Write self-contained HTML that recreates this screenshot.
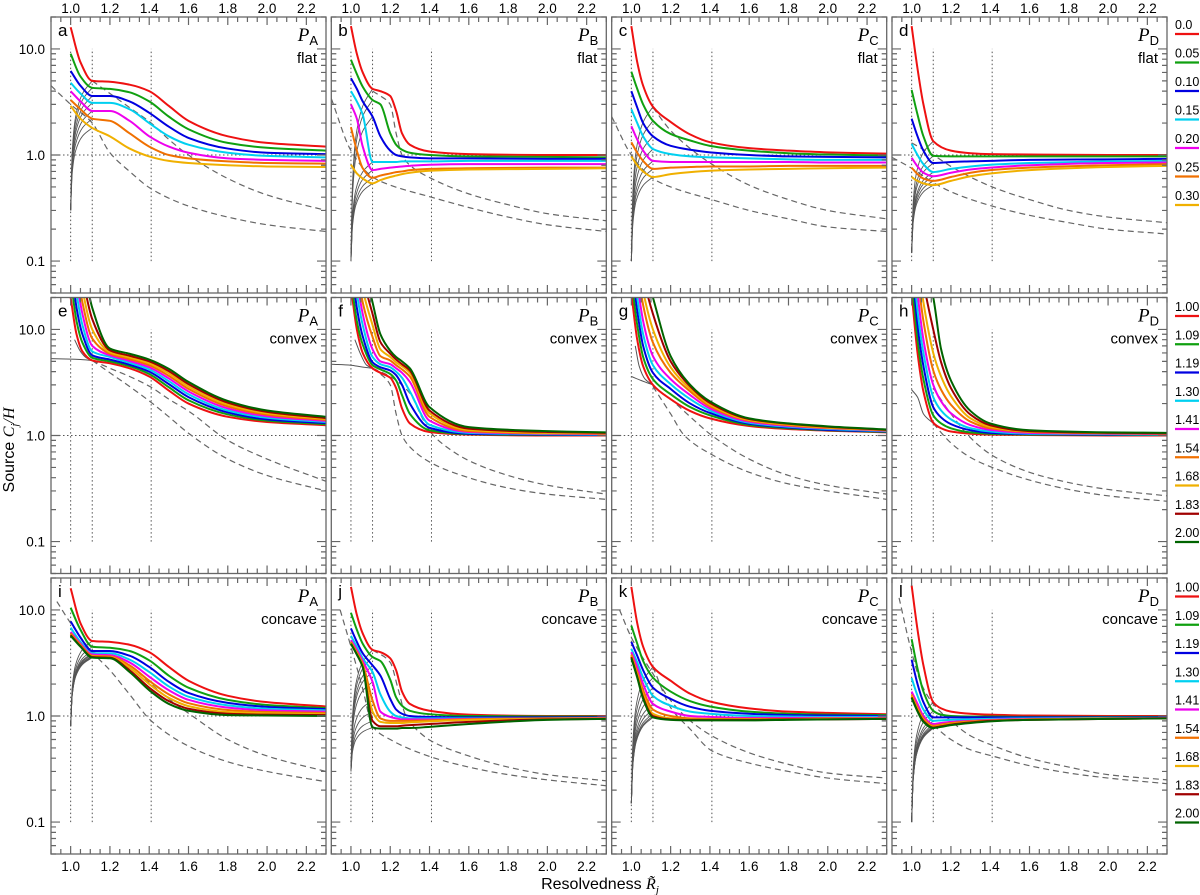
<!DOCTYPE html>
<html><head><meta charset="utf-8"><style>
html,body{margin:0;padding:0;background:#fff;}
svg{display:block;font-family:"Liberation Sans",sans-serif;}
</style></head><body>
<svg id="chart" width="1200" height="895" viewBox="0 0 1200 895" xmlns="http://www.w3.org/2000/svg"></svg>
<script>
// ---------- data ----------
const xTicks=[1.0,1.2,1.4,1.6,1.8,2.0,2.2];
const xTickLabels=["1.0","1.2","1.4","1.6","1.8","2.0","2.2"];
const yTicks=[10,1,0.1];
const yTickLabels=["10.0","1.0","0.1"];
const refLinesX=[1.0,1.11,1.41];
const legendFlat=["0.0","0.05","0.10","0.15","0.20","0.25","0.30"];
const legendShape=["1.00","1.09","1.19","1.30","1.41","1.54","1.68","1.83","2.00"];
const panelLetters=["a","b","c","d","e","f","g","h","i","j","k","l"];
const panelP=["A","B","C","D"];
const rowKind=["flat","convex","concave"];
const colors=["#ee1111","#10a010","#0000e0","#00d0f0","#ee00ee","#f07000","#f0b000","#a00000","#006400"];

// panel a
const xA=[1.0,1.05,1.11,1.2,1.3,1.4,1.5,1.6,1.8,2.0,2.3];
const sA=[[16,7.5,5.0,4.9,4.6,4.0,2.9,2.1,1.5,1.3,1.2],[9,5.5,4.3,4.2,3.9,3.2,2.3,1.75,1.3,1.17,1.1],[6.2,4.5,3.6,3.6,3.2,2.5,1.85,1.45,1.15,1.05,1.02],[4.8,3.8,3.1,3.1,2.7,2.0,1.5,1.25,1.05,0.98,0.95],[4.0,3.2,2.6,2.6,2.1,1.5,1.2,1.05,0.93,0.9,0.88],[3.3,2.7,2.2,2.1,1.6,1.2,1.0,0.93,0.87,0.84,0.83],[2.9,2.2,1.8,1.5,1.15,0.97,0.88,0.84,0.8,0.78,0.77]];
const dA1x=[0.9,1.0,1.11,1.2,1.3,1.41,1.6,1.8,2.0,2.3], dA1=[4.5,3.0,2.0,1.05,0.7,0.48,0.33,0.26,0.22,0.19];
const dA2x=[1.11,1.2,1.3,1.41,1.5,1.6,1.8,2.0,2.3], dA2=[5.0,3.8,2.8,2.0,1.4,1.0,0.6,0.42,0.3];
const fanA=0.3;
// panel b
const xB=[1.0,1.03,1.06,1.11,1.15,1.2,1.23,1.26,1.3,1.4,1.6,2.0,2.3];
const sB=[[16.4,9,6,4.2,4.0,3.6,2.6,1.6,1.25,1.08,1.02,1.0,1.0],[7.9,5.8,4.4,3.3,3.0,1.6,1.25,1.12,1.05,1.0,0.97,0.96,0.95],[5.3,4.2,3.2,2.3,1.5,1.1,1.0,0.97,0.95,0.93,0.93,0.92,0.92],[4.0,3.2,2.4,0.86,0.86,0.86,0.86,0.87,0.87,0.87,0.88,0.88,0.88],[3.0,2.2,1.2,0.72,0.74,0.76,0.77,0.78,0.79,0.81,0.82,0.82,0.82],[1.83,1.1,0.75,0.61,0.64,0.67,0.69,0.7,0.72,0.74,0.75,0.76,0.76],[0.81,0.67,0.6,0.54,0.58,0.62,0.64,0.66,0.68,0.71,0.73,0.74,0.75]];
const dB1x=[0.9,1.0,1.11,1.2,1.41,1.6,1.8,2.0,2.3], dB1=[3.4,1.1,0.62,0.52,0.40,0.32,0.26,0.22,0.19];
const dB2x=[1.11,1.15,1.2,1.23,1.26,1.3,1.41,1.6,1.8,2.0,2.3], dB2=[4.0,3.6,3.0,1.6,1.0,0.8,0.6,0.43,0.34,0.28,0.24];
const fanB=0.1;
// panel c
const xC=[1.0,1.03,1.06,1.11,1.2,1.3,1.4,1.6,1.8,2.0,2.3];
const sC=[[16.4,7.5,4.5,2.85,2.05,1.56,1.32,1.16,1.1,1.06,1.03],[6.1,4.2,3.0,2.1,1.58,1.37,1.22,1.1,1.04,1.01,0.99],[4.0,2.8,2.0,1.5,1.22,1.12,1.06,1.0,0.97,0.96,0.95],[2.7,2.0,1.5,1.14,1.02,0.97,0.95,0.93,0.91,0.9,0.9],[1.87,1.4,1.1,0.88,0.86,0.86,0.86,0.86,0.86,0.85,0.85],[1.32,1.05,0.88,0.74,0.76,0.77,0.78,0.78,0.79,0.79,0.79],[0.97,0.8,0.7,0.62,0.66,0.69,0.71,0.73,0.74,0.75,0.76]];
const dC1x=[0.9,1.0,1.11,1.2,1.41,1.6,1.8,2.0,2.3], dC1=[2.3,1.0,0.6,0.5,0.38,0.3,0.25,0.21,0.19];
const dC2x=[1.11,1.2,1.3,1.41,1.6,1.8,2.0,2.3], dC2=[2.8,1.7,1.15,0.82,0.52,0.38,0.3,0.25];
const fanC=0.1;
// panel d
const xD=[1.0,1.03,1.06,1.11,1.2,1.3,1.4,1.6,2.0,2.3];
const sD=[[16.4,6.5,3.0,1.35,1.1,1.04,1.02,1.01,1.0,1.0],[4.1,2.4,1.5,0.98,0.97,0.97,0.97,0.97,0.97,0.97],[2.2,1.5,1.1,0.84,0.86,0.87,0.88,0.9,0.91,0.92],[1.27,1.0,0.82,0.69,0.74,0.78,0.81,0.84,0.87,0.88],[0.94,0.78,0.68,0.63,0.68,0.73,0.76,0.8,0.84,0.85],[0.76,0.66,0.6,0.57,0.62,0.68,0.72,0.76,0.8,0.82],[0.62,0.57,0.54,0.52,0.57,0.63,0.67,0.72,0.77,0.79]];
const dD1x=[0.9,1.0,1.11,1.2,1.41,1.6,1.8,2.0,2.3], dD1=[0.95,0.75,0.55,0.45,0.33,0.27,0.23,0.2,0.18];
const dD2x=[1.0,1.11,1.2,1.41,1.6,1.8,2.0,2.3], dD2=[1.3,1.0,0.78,0.5,0.38,0.3,0.26,0.23];
const fanD=0.12;
// panel e
const xE=[1.0,1.03,1.06,1.11,1.2,1.3,1.4,1.5,1.6,1.8,2.0,2.3];
const sE=[[20,9,6.2,5.1,4.8,4.3,3.6,2.65,2.0,1.5,1.34,1.25],[30,12,7.5,5.4,5.0,4.5,3.8,2.85,2.15,1.58,1.38,1.28],[45,16,9,5.7,5.2,4.65,4.0,3.05,2.3,1.65,1.42,1.31],[60,22,11,6.2,5.5,4.85,4.2,3.25,2.45,1.72,1.47,1.34],[80,30,14,7.0,5.7,5.05,4.4,3.45,2.6,1.8,1.52,1.37],[100,40,18,8.2,5.9,5.25,4.6,3.65,2.75,1.88,1.57,1.4],[120,55,24,10,6.1,5.45,4.8,3.85,2.9,1.96,1.62,1.43],[150,70,32,12.5,6.35,5.65,5.0,4.05,3.05,2.04,1.67,1.46],[200,90,45,16,6.6,5.9,5.2,4.25,3.2,2.12,1.72,1.5]];
const dE1x=[1.11,1.2,1.3,1.41,1.5,1.6,1.8,2.0,2.3], dE1=[5.1,3.9,2.9,2.05,1.5,1.05,0.6,0.42,0.3];
const dE2x=[1.11,1.2,1.3,1.41,1.5,1.6,1.8,2.0,2.3], dE2=[5.1,4.3,3.6,2.85,2.2,1.7,0.9,0.6,0.37];
const gE=[[[1.02,1.05,1.08,1.11],[8,6.2,5.4,5.1]],[[0.9,1.0,1.05,1.11],[5.3,5.25,5.2,5.1]]];
// panel f
const xF=[1.0,1.03,1.06,1.11,1.15,1.2,1.23,1.26,1.3,1.4,1.6,2.0,2.3];
const sF=[[25,10,6,4.3,3.9,3.5,2.8,1.8,1.3,1.08,1.02,1.0,1.0],[30,12,7.2,4.6,4.2,3.8,3.3,2.4,1.6,1.12,1.03,1.01,1.01],[45,16,8.6,4.9,4.4,4.1,3.7,3.0,2.0,1.18,1.04,1.02,1.01],[60,22,11,5.5,4.7,4.4,4.0,3.5,2.6,1.26,1.06,1.03,1.02],[80,30,14,6.5,5.0,4.7,4.3,3.9,3.2,1.38,1.08,1.04,1.03],[100,40,18,8.5,5.6,5.1,4.6,4.2,3.6,1.5,1.1,1.05,1.04],[120,55,24,11,6.5,5.5,4.9,4.5,3.9,1.62,1.13,1.06,1.05],[150,70,32,14,7.6,5.9,5.2,4.7,4.1,1.72,1.16,1.08,1.06],[200,90,45,18,9,6.3,5.5,5.0,4.3,1.85,1.2,1.1,1.07]];
const dF1x=[1.11,1.15,1.2,1.23,1.26,1.3,1.41,1.6,1.8,2.0,2.3], dF1=[4.3,3.8,3.0,1.6,1.0,0.78,0.55,0.4,0.32,0.28,0.25];
const dF2x=[1.11,1.2,1.3,1.36,1.41,1.5,1.6,1.8,2.0,2.3], dF2=[4.3,3.6,2.5,1.5,1.05,0.75,0.58,0.42,0.34,0.28];
const gF=[[[1.02,1.05,1.08,1.11],[8,5.8,4.6,4.3]],[[0.9,1.0,1.05,1.11],[4.7,4.6,4.45,4.3]]];
// panel g
const xG=[1.0,1.03,1.06,1.11,1.2,1.3,1.4,1.6,1.8,2.0,2.3];
const sG=[[22,8,4.5,3.0,2.2,1.7,1.45,1.23,1.15,1.11,1.07],[30,11,5.5,3.4,2.45,1.85,1.55,1.26,1.17,1.12,1.08],[45,15,7,3.9,2.75,2.0,1.63,1.29,1.19,1.13,1.09],[60,20,9,4.6,3.05,2.2,1.72,1.32,1.21,1.15,1.1],[80,28,12,5.6,3.4,2.4,1.8,1.35,1.23,1.17,1.11],[100,38,17,7.5,3.9,2.6,1.88,1.38,1.25,1.18,1.12],[120,50,23,10,4.4,2.75,1.95,1.4,1.27,1.19,1.12],[150,70,32,14,5.0,2.9,2.03,1.43,1.29,1.21,1.13],[200,90,45,20,5.6,3.0,2.1,1.45,1.3,1.22,1.14]];
const dG1x=[1.11,1.2,1.27,1.41,1.6,1.8,2.0,2.3], dG1=[2.9,1.6,1.0,0.66,0.45,0.35,0.3,0.25];
const dG2x=[1.11,1.2,1.3,1.41,1.6,1.8,2.0,2.3], dG2=[2.9,2.2,1.5,1.0,0.6,0.42,0.34,0.28];
const gG=[[[1.02,1.04,1.07,1.11],[7,4.5,3.4,3.0]],[[1.0,1.05,1.11],[3.6,3.3,3.0]]];
// panel h
const xH=[1.0,1.03,1.06,1.11,1.15,1.2,1.3,1.4,1.6,2.0,2.3];
const sH=[[22,6,2.6,1.32,1.17,1.09,1.04,1.02,1.01,1.0,1.0],[30,8,3.4,1.55,1.3,1.17,1.07,1.04,1.02,1.01,1.01],[45,11,4.5,1.85,1.48,1.28,1.12,1.06,1.03,1.02,1.02],[60,15,6.0,2.3,1.72,1.42,1.17,1.09,1.04,1.03,1.02],[80,22,8,3.0,2.1,1.62,1.25,1.13,1.06,1.04,1.03],[100,32,12,4.1,2.7,1.95,1.35,1.17,1.08,1.05,1.04],[120,45,18,6,3.6,2.35,1.45,1.21,1.09,1.06,1.05],[150,65,28,10,4.9,2.8,1.57,1.25,1.1,1.06,1.05],[200,90,45,20,6.5,3.3,1.7,1.3,1.12,1.07,1.06]];
const dH1x=[1.11,1.2,1.3,1.41,1.6,1.8,2.0,2.3], dH1=[1.3,0.85,0.62,0.5,0.38,0.31,0.27,0.24];
const dH2x=[1.11,1.2,1.3,1.41,1.6,1.8,2.0,2.3], dH2=[2.8,1.6,0.95,0.65,0.45,0.36,0.31,0.27];
const gH=[[[1.0,1.03,1.06,1.11],[2.7,2.3,1.6,1.3]]];
// panel i
const xI=[1.0,1.05,1.11,1.2,1.3,1.4,1.5,1.6,1.8,2.0,2.3];
const sI=[[16,7.5,5.1,5.0,4.7,4.0,2.9,2.15,1.55,1.35,1.23],[10.5,6.5,4.5,4.4,4.1,3.35,2.4,1.85,1.42,1.27,1.19],[7.8,5.5,4.1,4.1,3.7,2.9,2.1,1.65,1.33,1.22,1.16],[6.8,5.0,3.9,3.9,3.4,2.6,1.9,1.52,1.26,1.17,1.13],[6.2,4.8,3.8,3.75,3.2,2.35,1.75,1.42,1.2,1.13,1.1],[6.0,4.7,3.7,3.65,3.0,2.15,1.6,1.32,1.14,1.09,1.07],[5.9,4.6,3.65,3.6,2.85,2.0,1.48,1.24,1.09,1.06,1.04],[5.8,4.55,3.6,3.55,2.7,1.85,1.38,1.17,1.05,1.03,1.02],[5.7,4.5,3.55,3.5,2.6,1.75,1.3,1.12,1.02,1.01,1.0]];
const dI1x=[0.93,1.0,1.11,1.2,1.3,1.41,1.6,1.8,2.0,2.3], dI1=[12,7.5,4.0,2.7,1.6,0.9,0.52,0.37,0.3,0.24];
const dI2x=[1.11,1.2,1.3,1.41,1.5,1.62,1.8,2.0,2.3], dI2=[4.0,3.6,3.0,2.0,1.45,1.0,0.6,0.42,0.3];
const fanI=0.8;
// panel j
const xJ=[1.0,1.03,1.06,1.11,1.15,1.2,1.23,1.26,1.3,1.4,1.6,2.0,2.3];
const sJ=[[16.5,9,6,4.2,4.0,3.5,2.7,1.7,1.3,1.12,1.03,1.0,1.0],[9.4,6.5,4.8,3.6,3.3,2.2,1.5,1.25,1.12,1.04,1.0,0.99,0.99],[6.7,5.0,3.9,3.0,2.4,1.45,1.15,1.05,1.0,0.98,0.97,0.97,0.97],[5.7,4.5,3.5,2.6,1.6,1.1,1.0,0.97,0.95,0.95,0.95,0.95,0.96],[5.2,4.2,3.3,2.1,1.1,0.98,0.95,0.93,0.93,0.93,0.94,0.95,0.96],[5.0,4.0,3.1,1.4,0.95,0.9,0.9,0.9,0.9,0.91,0.93,0.95,0.95],[4.9,3.9,3.0,1.1,0.88,0.86,0.86,0.86,0.87,0.89,0.92,0.94,0.95],[4.8,3.8,2.9,0.9,0.8,0.8,0.8,0.81,0.82,0.84,0.88,0.93,0.94],[4.8,3.8,2.9,0.78,0.76,0.76,0.76,0.77,0.77,0.79,0.84,0.92,0.94]];
const dJ1x=[0.945,1.0,1.06,1.11,1.2,1.41,1.6,1.8,2.0,2.3], dJ1=[10,4.5,1.8,0.8,0.6,0.41,0.33,0.28,0.25,0.22];
const dJ2x=[1.11,1.2,1.24,1.28,1.35,1.41,1.6,1.8,2.0,2.3], dJ2=[4.2,3.2,1.8,1.0,0.7,0.58,0.42,0.33,0.28,0.245];
const fanJ=0.3;
// panel k
const xK=[1.0,1.03,1.06,1.11,1.2,1.3,1.4,1.6,1.8,2.0,2.3];
const sK=[[16.5,7.5,4.5,2.9,2.15,1.62,1.37,1.18,1.1,1.07,1.04],[7.1,4.8,3.3,2.3,1.7,1.38,1.23,1.1,1.05,1.03,1.02],[5.0,3.7,2.7,1.85,1.45,1.22,1.12,1.05,1.02,1.01,1.0],[4.3,3.2,2.3,1.55,1.25,1.1,1.05,1.0,0.99,0.98,0.98],[4.0,2.9,2.0,1.3,1.1,1.0,0.98,0.96,0.96,0.96,0.96],[3.8,2.6,1.75,1.15,1.0,0.95,0.94,0.94,0.94,0.95,0.95],[3.7,2.45,1.6,1.05,0.95,0.93,0.93,0.93,0.93,0.94,0.94],[3.6,2.35,1.5,1.0,0.93,0.92,0.92,0.92,0.93,0.93,0.94],[3.5,2.3,1.45,0.97,0.92,0.91,0.91,0.91,0.92,0.93,0.94]];
const dK1x=[0.94,1.0,1.11,1.2,1.3,1.41,1.6,1.8,2.0,2.3], dK1=[10,5.5,2.5,1.4,0.9,0.65,0.45,0.35,0.29,0.26];
const dK2x=[1.11,1.2,1.3,1.41,1.6,1.8,2.0,2.3], dK2=[2.9,1.2,0.75,0.47,0.36,0.3,0.26,0.23];
const fanK=0.15;
// panel l
const xL=[1.0,1.03,1.06,1.11,1.15,1.2,1.3,1.4,1.6,2.0,2.3];
const sL=[[17,6.5,3.0,1.35,1.18,1.1,1.05,1.03,1.01,1.0,1.0],[5.3,2.8,1.7,1.12,1.03,1.0,0.99,0.99,0.98,0.98,0.98],[3.4,2.0,1.35,0.97,0.97,0.97,0.97,0.97,0.97,0.97,0.97],[2.28,1.55,1.15,0.9,0.91,0.92,0.93,0.94,0.95,0.96,0.96],[1.7,1.3,1.0,0.84,0.86,0.88,0.9,0.92,0.94,0.95,0.96],[1.6,1.2,0.95,0.81,0.83,0.86,0.89,0.91,0.93,0.95,0.95],[1.55,1.15,0.92,0.79,0.81,0.84,0.88,0.9,0.93,0.94,0.95],[1.5,1.12,0.9,0.78,0.8,0.83,0.87,0.9,0.92,0.94,0.95],[1.48,1.1,0.88,0.77,0.79,0.82,0.86,0.89,0.92,0.94,0.95]];
const dL1x=[0.936,1.0,1.05,1.11,1.2,1.3,1.41,1.6,1.8,2.0,2.3], dL1=[13,4,2.0,1.3,0.9,0.65,0.53,0.4,0.33,0.28,0.25];
const dL2x=[1.11,1.2,1.3,1.41,1.6,1.8,2.0,2.3], dL2=[0.82,0.6,0.48,0.42,0.34,0.29,0.26,0.23];
const fanL=0.1;

// ---------- geometry ----------
const NS="http://www.w3.org/2000/svg";
const svg=document.getElementById('chart');
const colL=[51,331.3,611.7,892], rowT=[17,297.5,578], PW=275, PH=276;
const XMIN=0.9,XMAX=2.3,LYMAX=Math.log10(20),LYSPAN=Math.log10(400);
function px(c,x){return colL[c]+(x-XMIN)/(XMAX-XMIN)*PW;}
function py(r,v){return rowT[r]+(LYMAX-Math.log10(v))/LYSPAN*PH;}
function mk(tag,attrs,parent){const e=document.createElementNS(NS,tag);for(const k in attrs)e.setAttribute(k,attrs[k]);(parent||svg).appendChild(e);return e;}
// monotone cubic (Fritsch-Carlson) path through pixel points
function spline(pts){
  const n=pts.length; if(n<2)return '';
  const dx=[],m=[],t=new Array(n);
  for(let i=0;i<n-1;i++){dx[i]=pts[i+1][0]-pts[i][0];m[i]=(pts[i+1][1]-pts[i][1])/dx[i];}
  t[0]=m[0]; t[n-1]=m[n-2];
  for(let i=1;i<n-1;i++){
    if(m[i-1]*m[i]<=0)t[i]=0;
    else{const w1=2*dx[i]+dx[i-1],w2=dx[i]+2*dx[i-1];t[i]=(w1+w2)/(w1/m[i-1]+w2/m[i]);}
  }
  let d='M'+pts[0][0].toFixed(2)+','+pts[0][1].toFixed(2);
  for(let i=0;i<n-1;i++){
    const h=dx[i]/3;
    d+='C'+(pts[i][0]+h).toFixed(2)+','+(pts[i][1]+t[i]*h).toFixed(2)+' '+(pts[i+1][0]-h).toFixed(2)+','+(pts[i+1][1]-t[i+1]*h).toFixed(2)+' '+pts[i+1][0].toFixed(2)+','+pts[i+1][1].toFixed(2);
  }
  return d;
}
function curve(g,c,r,xs,vs,attrs){
  const pts=xs.map((x,i)=>[px(c,x),py(r,vs[i])]);
  const a=Object.assign({d:spline(pts),fill:'none'},attrs);
  return mk('path',a,g);
}

const panels=[
 {x:xA,s:sA,d:[[dA1x,dA1],[dA2x,dA2]],fan:fanA},
 {x:xB,s:sB,d:[[dB1x,dB1],[dB2x,dB2]],fan:fanB},
 {x:xC,s:sC,d:[[dC1x,dC1],[dC2x,dC2]],fan:fanC},
 {x:xD,s:sD,d:[[dD1x,dD1],[dD2x,dD2]],fan:fanD},
 {x:xE,s:sE,d:[[dE1x,dE1],[dE2x,dE2]],g:gE},
 {x:xF,s:sF,d:[[dF1x,dF1],[dF2x,dF2]],g:gF},
 {x:xG,s:sG,d:[[dG1x,dG1],[dG2x,dG2]],g:gG},
 {x:xH,s:sH,d:[[dH1x,dH1],[dH2x,dH2]],g:gH},
 {x:xI,s:sI,d:[[dI1x,dI1],[dI2x,dI2]],fan:fanI},
 {x:xJ,s:sJ,d:[[dJ1x,dJ1],[dJ2x,dJ2]],fan:fanJ},
 {x:xK,s:sK,d:[[dK1x,dK1],[dK2x,dK2]],fan:fanK},
 {x:xL,s:sL,d:[[dL1x,dL1],[dL2x,dL2]],fan:fanL}
];
const defs=mk('defs',{});
const fanProfile=[0,0.45,0.72,0.9,1];
const fanXs=[1.0,1.008,1.025,1.06,1.11];

panels.forEach((P,idx)=>{
  const r=Math.floor(idx/4), c=idx%4;
  const L=colL[c], T=rowT[r];
  const cp=mk('clipPath',{id:'cp'+idx},defs);
  mk('rect',{x:L,y:T,width:PW,height:PH},cp);
  const g=mk('g',{});
  
  
  const inner=mk('g',{'clip-path':'url(#cp'+idx+')'},g);
  refLinesX.forEach(xv=>{
    const l=mk('line',{x1:px(c,xv),x2:px(c,xv),y1:py(r,0.1),y2:py(r,10),stroke:'#555','stroke-width':1,'stroke-dasharray':'1.5,2.5'},inner);
    
    
  });
  const hl=mk('line',{x1:L,x2:L+PW,y1:py(r,1),y2:py(r,1),stroke:'#555','stroke-width':1,'stroke-dasharray':'1.5,2.5'},inner);
  
  
  P.d.forEach((dd,k)=>{
    const p=curve(inner,c,r,dd[0],dd[1],{stroke:'#666','stroke-width':1.2,'stroke-dasharray':'6,4'});
    
    
  });
  if(P.fan!==undefined){
    const j111=P.x.indexOf(1.11);
    P.s.forEach((ser,k)=>{
      const endV=ser[j111];
      const l0=Math.log10(P.fan), l1=Math.log10(endV);
      const vs=fanProfile.map(f=>Math.pow(10,l0+(l1-l0)*f));
      const p=curve(inner,c,r,fanXs,vs,{stroke:'#555','stroke-width':0.9});
      
      
    });
  }
  if(P.g){
    P.g.forEach(gg=>{
      const p=curve(inner,c,r,gg[0],gg[1],{stroke:'#555','stroke-width':1});
      
      
    });
  }
  P.s.forEach((ser,k)=>{
    const p=curve(inner,c,r,P.x,ser,{stroke:colors[k],'stroke-width':2});
    
    
  });
  const fr=mk('rect',{x:L,y:T,width:PW,height:PH,fill:'none',stroke:'#666','stroke-width':1.3},g);
  
  
  let td='';
  for(let i=0;i<=28;i++){
    const xv=0.9+i*0.05; const xx=px(c,xv);
    const major=(i%4===2);
    const len=major?8:5;
    td+='M'+xx+','+(T+PH)+'v-'+len+'M'+xx+','+T+'v'+len;
  }
  [0.01,0.1,1,10].forEach(dec=>{
    for(let m=1;m<=9;m++){
      const vv=dec*m;
      if(vv<0.05||vv>20)continue;
      const yy=py(r,vv); const len=m===1?9:5;
      td+='M'+L+','+yy+'h'+len+'M'+(L+PW)+','+yy+'h-'+len;
    }
  });
  const tk=mk('path',{d:td,stroke:'#666','stroke-width':1.2,fill:'none'},g);
  
  
  const lt=mk('text',{x:L+7,y:T+19,'font-size':17,fill:'#000'},g);
  lt.textContent=panelLetters[idx];
  
  
  const pt=mk('text',{x:L+PW-8,y:T+24,'text-anchor':'end','font-size':19,fill:'#000'},g);
  const t1=mk('tspan',{'font-family':'Liberation Serif, serif','font-style':'italic'},pt); t1.textContent='P';
  const t2=mk('tspan',{'font-size':13,dy:4},pt); t2.textContent=panelP[c];
  
  
  const kt=mk('text',{x:L+PW-9,y:T+46,'text-anchor':'end','font-size':15,fill:'#000'},g);
  kt.textContent=rowKind[r];
  
  
  if(c===0){
    yTicks.forEach((v,i)=>{
      const t=mk('text',{x:L-6,y:py(r,v)+5,'text-anchor':'end','font-size':13.5,fill:'#000'},g);
      t.textContent=yTickLabels[i];
      
      
    });
  }
  if(r===0||r===2){
    xTicks.forEach((v,i)=>{
      const t=mk('text',{x:px(c,v),y:r===0?T-4:T+PH+17,'text-anchor':'middle','font-size':13.5,fill:'#000'},g);
      t.textContent=xTickLabels[i];
      
      
    });
  }
});

[0,1,2].forEach(r=>{
  const labels=r===0?legendFlat:legendShape;
  const top=r===0?25:rowT[r]+9.5;
  const step=r===0?28.5:28.25;
  const lg=mk('g',{});
  
  
  labels.forEach((lab,k)=>{
    const y0=top+k*step;
    const t=mk('text',{x:1175,y:y0+4,'font-size':12.5,fill:'#000'},lg);
    t.textContent=lab;
    
    
    const l=mk('line',{x1:1175,x2:1199,y1:y0+9,y2:y0+9,stroke:colors[k],'stroke-width':2.2},lg);
    
    
  });
});

const xt=mk('text',{x:600,y:889,'text-anchor':'middle','font-size':16,fill:'#000'});


xt.appendChild(document.createTextNode('Resolvedness '));
const xr=mk('tspan',{'font-family':'Liberation Serif, serif','font-style':'italic'},xt); xr.textContent='R\u0303';
const xj=mk('tspan',{'font-family':'Liberation Serif, serif','font-style':'italic','font-size':11,dy:4},xt); xj.textContent='j';

const yt=mk('text',{x:0,y:0,'text-anchor':'middle','font-size':16,fill:'#000',transform:'translate(14,450) rotate(-90)'});


yt.appendChild(document.createTextNode('Source  '));
const yc=mk('tspan',{'font-family':'Liberation Serif, serif','font-style':'italic'},yt); yc.textContent='C';
const yj=mk('tspan',{'font-family':'Liberation Serif, serif','font-style':'italic','font-size':11,dy:4},yt); yj.textContent='j';
const yh=mk('tspan',{'font-family':'Liberation Serif, serif','font-style':'italic',dy:-4},yt); yh.textContent='/H';
</script>
</body></html>
